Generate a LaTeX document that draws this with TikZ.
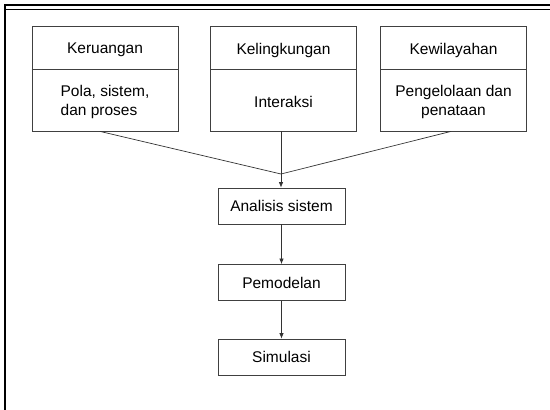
\documentclass[tikz,border=0pt]{standalone}
\usepackage{fontspec}
\setmainfont{Liberation Sans}
\usetikzlibrary{arrows.meta}
\tikzset{
  box/.style={draw=black!75, line width=0.8pt, minimum width=146pt, minimum height=105pt, inner sep=0pt},
  stepbox/.style={draw=black!75, line width=0.8pt, minimum width=127pt, minimum height=36pt, inner sep=0pt},
  garis/.style={draw=black!80, line width=0.7pt},
  arr/.style={garis, -{Latex[length=5.5pt,width=4.5pt]}},
  txt/.style={font=\fontsize{15.5}{19.5}\selectfont}
}
\begin{document}
\begin{tikzpicture}[x=1pt,y=-1pt,txt]
\useasboundingbox (0,0) rectangle (550,410);
% frame of the slide
\draw[line width=2.5pt] (5,410) -- (5,5) -- (550,5);
\draw[line width=0.8pt] (6,9) -- (550,9);
% the three aspects
\foreach \posx/\nama/\judul/\isi/\rata in {105/ruang/Keruangan/{Pola, sistem,\\dan proses}/left,
  283.5/lingkung/Kelingkungan/Interaksi/center,
  453.5/wilayah/Kewilayahan/{Pengelolaan dan\\penataan}/center}
{
\node[box] (\nama) at (\posx,78.5) {};
\draw[draw=black!75, line width=0.8pt] (\nama.west |- 0,69) -- (\nama.east |- 0,69);
\node (\nama-judul) at (\posx,50) {\judul};
\node[align=\rata] (\nama-isi) at (\posx,102) {\isi};
}
% the steps
\node[stepbox] (analisis) at (281.5,206) {Analisis sistem};
\node[stepbox] (model) at (281.5,282.5) {Pemodelan};
\node[stepbox] (simulasi) at (281.5,357) {Simulasi};
\coordinate (temu) at (281,174);
\draw[garis] ([xshift=-5pt]ruang.south) -- (temu);
\draw[garis] ([xshift=-2.5pt]wilayah.south) -- (temu);
\draw[arr] (lingkung.south -| temu) -- (temu |- analisis.north);
\draw[arr] (analisis) -- (model);
\draw[arr] (model) -- (simulasi);
\end{tikzpicture}
\end{document}
